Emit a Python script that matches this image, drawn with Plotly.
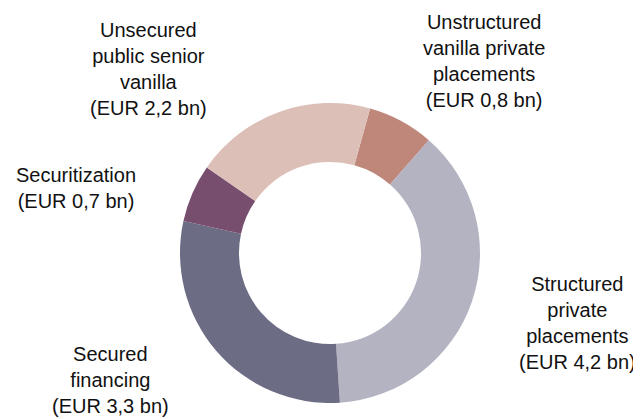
import plotly.graph_objects as go

# funding mix, clockwise from the top
labels = ["Unstructured<br>vanilla private<br>placements",
          "Structured<br>private<br>placements",
          "Secured<br>financing",
          "Securitization",
          "Unsecured<br>public senior<br>vanilla"]
values = [0.8, 4.2, 3.3, 0.7, 2.2]
colors = ["#BE877A", "#B4B3C2", "#6C6C84", "#784E6E", "#DCC0B8"]

# where each label sits (screen px of the reference)
label_pos = [(484, 61), (577, 323), (110, 380), (76, 188), (148, 69)]

W, H = 641, 419
OFF = 8  # page body margin
FW, FH = W - OFF, H - OFF


def px(x):
    return (x - OFF) / FW


def py(y):
    return 1 - (y - OFF) / FH


fig = go.Figure()
fig.add_trace(go.Pie(
    values=values,
    labels=[l.replace("<br>", " ") for l in labels],
    marker=dict(colors=colors, line=dict(width=0)),
    hole=0.607,
    sort=False,
    direction="clockwise",
    rotation=15.5,
    textinfo="none",
    hoverinfo="label+value",
    domain=dict(x=[px(180), px(480)], y=[py(403), py(103)]),
))

for lab, v, (x, y) in zip(labels, values, label_pos):
    amount = f"{v:.1f}".replace(".", ",")
    fig.add_annotation(
        text=f"{lab}<br>(EUR {amount} bn)",
        x=px(x), y=py(y), xref="paper", yref="paper",
        xanchor="center", yanchor="middle", showarrow=False,
        font=dict(family="Liberation Sans, Arial", size=20, color="#111111"),
    )

fig.update_layout(
    width=FW, height=FH,
    margin=dict(l=0, r=0, t=0, b=0),
    showlegend=False,
    paper_bgcolor="white",
    plot_bgcolor="white",
)

fig.write_html("out.html")
